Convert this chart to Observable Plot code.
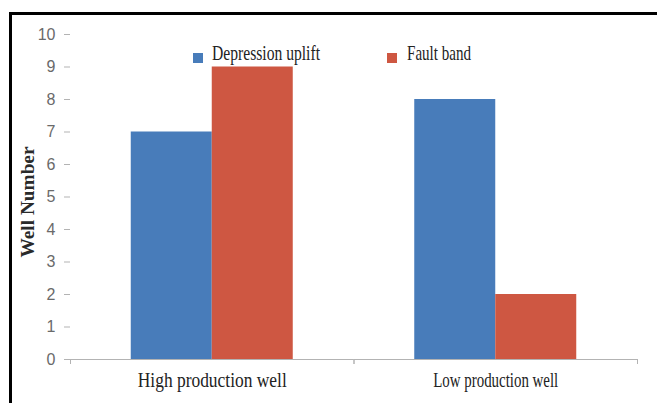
<!DOCTYPE html>
<html>
<head>
<meta charset="utf-8">
<script src="https://cdn.jsdelivr.net/npm/d3@7"></script>
<script src="https://cdn.jsdelivr.net/npm/@observablehq/plot@0.6"></script>
<style>
  html, body { margin: 0; padding: 0; background: #fff; overflow: hidden; }
  #wrap { position: relative; width: 657px; height: 403px; overflow: hidden; }
  #frame { position: absolute; left: 9px; top: 12px; width: 700px; height: 500px;
           border-top: 3px solid #000; border-left: 3px solid #000; box-sizing: border-box; pointer-events: none; }
  #overlay { position: absolute; left: 0; top: 0; }
  g[aria-label="y-axis tick label"], g[aria-label="y-axis tick label"] text { font-size: 16px !important; }
</style>
</head>
<body>
<div id="wrap"></div>
<script>
// ---- data ----
const groups = ["High production well", "Low production well"];
const series = ["Depression uplift", "Fault band"];
const depressionUplift = [7, 8];
const faultBand = [9, 2];
const yTicks = [0, 1, 2, 3, 4, 5, 6, 7, 8, 9, 10];
const yLabel = "Well Number";

// ---- styles ----
const colors = ["#487CBA", "#CE5742"];
const axisGray = "#b3b3b3";
const tickTextGray = "#6a6a6a";
const serif = "Liberation Serif";
const groupLabelWidths = {"High production well": 149, "Low production well": 125};
const legendTextWidths = {"Depression uplift": 108, "Fault band": 64};
const yLabelWidth = 111;

const data = groups.flatMap((g, i) => [
  {group: g, series: series[0], value: depressionUplift[i]},
  {group: g, series: series[1], value: faultBand[i]}
]);

const boundaryTicks = (index, scales, values, dims) => {
  const g = d3.create("svg:g").attr("stroke", axisGray).attr("aria-label", "x boundary ticks");
  const y0 = scales.y(0);
  for (const x of [dims.marginLeft, dims.width - dims.marginRight]) {
    g.append("line").attr("x1", x + 0.5).attr("x2", x + 0.5).attr("y1", y0).attr("y2", y0 + 5);
  }
  return g.node();
};

const chart = Plot.plot({
  width: 657,
  height: 403,
  marginLeft: 70,
  marginRight: 20,
  marginTop: 34,
  marginBottom: 44,
  style: {fontFamily: "Liberation Sans", fontSize: "14px", background: "transparent", color: "#222"},
  fx: {domain: groups, padding: 0, round: false, label: null},
  x: {domain: series, paddingInner: 0, paddingOuter: 0.75, round: false, axis: null},
  y: {domain: [0, 10]},
  color: {domain: series, range: colors},
  marks: [
    Plot.barY(data, {fx: "group", x: "series", y: "value", fill: "series"}),
    Plot.ruleY([0], {stroke: axisGray}),
    boundaryTicks,
    Plot.axisY({
      ticks: yTicks, tickSize: 6, tickPadding: 9, line: true,
      stroke: axisGray, fill: tickTextGray, fontSize: 16, label: null
    }),
    Plot.axisFx({
      anchor: "bottom", tickSize: 0, tickPadding: 12, label: null,
      fontFamily: serif, fontSize: 22, fill: "#222"
    })
  ]
});

d3.select(chart).selectAll('g[aria-label="fx-axis tick label"] text').each(function () {
  const t = this.textContent;
  if (groupLabelWidths[t]) {
    d3.select(this).attr("textLength", groupLabelWidths[t]).attr("lengthAdjust", "spacingAndGlyphs");
  }
});

const wrap = document.getElementById("wrap");
wrap.appendChild(chart);

// overlay: legend + y-axis title
const legendPos = [{sx: 193, tx: 212}, {sx: 387, tx: 407}];
const overlay = d3.create("svg").attr("id", "overlay").attr("width", 657).attr("height", 403);
series.forEach((s, i) => {
  overlay.append("rect").attr("x", legendPos[i].sx).attr("y", 53).attr("width", 10).attr("height", 10).attr("fill", colors[i]);
  overlay.append("text").attr("x", legendPos[i].tx).attr("y", 60)
    .attr("font-family", serif).attr("font-size", 22).attr("fill", "#222")
    .attr("textLength", legendTextWidths[s]).attr("lengthAdjust", "spacingAndGlyphs")
    .text(s);
});
overlay.append("text")
  .attr("transform", "translate(34,202) rotate(-90)")
  .attr("text-anchor", "middle")
  .attr("font-family", serif).attr("font-weight", "bold").attr("font-size", 19).attr("fill", "#2a2a2a")
  .attr("textLength", yLabelWidth).attr("lengthAdjust", "spacingAndGlyphs")
  .text(yLabel);
wrap.appendChild(overlay.node());

const frame = document.createElement("div");
frame.id = "frame";
wrap.appendChild(frame);
</script>
</body>
</html>
